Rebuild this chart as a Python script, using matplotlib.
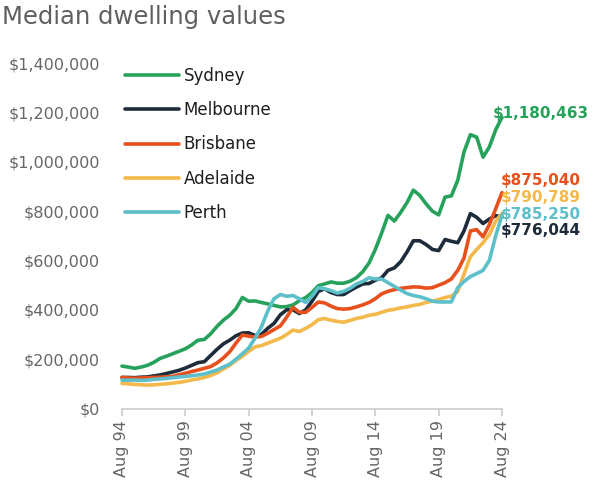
"""Median dwelling values by capital city, half-yearly, Aug 1994 - Aug 2024."""

import matplotlib
matplotlib.use('Agg')
import matplotlib.pyplot as plt
import pandas as pd
from matplotlib.ticker import FuncFormatter

plt.rcParams['font.family'] = ['DejaVu Sans']

# half-yearly points, Aug 94 .. Aug 24 (values in $'000)
dates = pd.date_range('1994-08-01', periods=61, freq='6MS')

sydney = [172, 168, 163, 168, 175, 187, 203, 212, 222, 232,
          242, 258, 277, 280, 303, 333, 358, 378, 405, 450,
          435, 436, 430, 424, 418, 412, 413, 420, 437, 450,
          470, 498, 505, 513, 508, 508, 516, 530, 554, 590,
          645, 712, 783, 760, 795, 835, 885, 864, 830, 800,
          785, 857, 862, 925, 1040, 1110, 1100, 1019, 1060, 1130,
          1180]
melbourne = [126, 126, 125, 127, 128, 132, 136, 142, 148, 155,
             164, 175, 186, 190, 215, 240, 262, 277, 295, 306,
             307, 296, 300, 325, 345, 380, 400, 400, 385, 400,
             435, 475, 485, 470, 462, 462, 478, 492, 505, 507,
             520, 530, 560, 570, 595, 635, 680, 680, 665, 645,
             640, 685, 678, 672, 720, 790, 775, 750, 768, 782,
             776]
brisbane = [126, 124, 123, 124, 125, 126, 127, 128, 130, 137,
            143, 150, 156, 163, 170, 185, 205, 230, 265, 298,
            293, 290, 292, 305, 320, 335, 370, 410, 390, 390,
            410, 432, 428, 415, 405, 403, 405, 412, 420, 430,
            445, 465, 475, 482, 487, 490, 493, 492, 488, 490,
            500, 510, 525, 560, 610, 720, 725, 696, 745, 810,
            875]
adelaide = [102, 100, 98, 96, 95, 96, 98, 100, 103, 106,
            110, 116, 120, 126, 134, 145, 160, 175, 195, 212,
            232, 250, 255, 265, 275, 285, 300, 318, 312, 325,
            340, 360, 365, 358, 353, 350, 357, 365, 370, 378,
            382, 390, 398, 402, 408, 412, 418, 422, 430, 435,
            442, 450, 455, 475, 545, 615, 645, 672, 705, 760,
            791]
perth = [115, 115, 115, 114, 115, 118, 120, 122, 125, 128,
         130, 133, 136, 140, 148, 156, 168, 180, 200, 222,
         245, 285, 330, 395, 445, 462, 455, 458, 445, 430,
         455, 490, 485, 478, 468, 475, 487, 505, 515, 530,
         525, 525, 510, 495, 480, 466, 458, 453, 445, 435,
         432, 432, 432, 490, 515, 535, 547, 560, 600, 700,
         785]

cities = ['Sydney', 'Melbourne', 'Brisbane', 'Adelaide', 'Perth']
series = [sydney, melbourne, brisbane, adelaide, perth]
colours = ['#27a25c', '#1e2b3a', '#e8501e', '#f3b94a', '#5cbfc9']
end_labels = ['$1,180,463', '$776,044', '$875,040', '$790,789', '$785,250']
# label offsets (points) from each line's last value
label_offsets = [(-7, 3), (-1, -10), (-1, 9), (-1, 11.5), (-1, 0)]

fig = plt.figure(figsize=(6, 4.97), dpi=100)
ax = fig.add_axes([0.2033, 0.178, 0.6334, 0.695])

for name, vals, col in zip(cities, series, colours):
    ax.plot(dates, [v * 1000 for v in vals], color=col, lw=2.6,
            label=name, solid_capstyle='round', clip_on=False)

for name, vals, col, lab, off in zip(cities, series, colours,
                                      end_labels, label_offsets):
    ax.annotate(lab, xy=(dates[-1], vals[-1] * 1000), xytext=off,
                textcoords='offset points', ha='left', va='center',
                fontsize=11, fontweight='bold', color=col)

ax.set_xlim(dates[0], dates[-1])
ax.set_ylim(0, 1400000)
ax.set_yticks(range(0, 1400001, 200000))
ax.yaxis.set_major_formatter(FuncFormatter(lambda v, p: '${:,.0f}'.format(v)))
ax.set_xticks(dates[::10])
ax.set_xticklabels([d.strftime('%b %y') for d in dates[::10]], rotation=90)

for s in ['top', 'right', 'left']:
    ax.spines[s].set_visible(False)
ax.spines['bottom'].set_color('#cccccc')
ax.spines['bottom'].set_linewidth(1.2)
ax.tick_params(axis='y', length=0, pad=16, labelsize=11.5, labelcolor='#666666')
ax.tick_params(axis='x', length=5, width=1.2, color='#cccccc', pad=3,
               labelsize=11.5, labelcolor='#666666')

ax.legend(loc='upper left', bbox_to_anchor=(-0.0103, 1.009), frameon=False,
          fontsize=12, handlelength=3.23, handletextpad=0.3, labelspacing=0.98,
          borderaxespad=0, labelcolor='#1e1e1e')

fig.text(0.003, 0.99, 'Median dwelling values', fontsize=17.5, color='#5f5f5f',
         va='top', ha='left')

fig.savefig('out.png', dpi=100)
